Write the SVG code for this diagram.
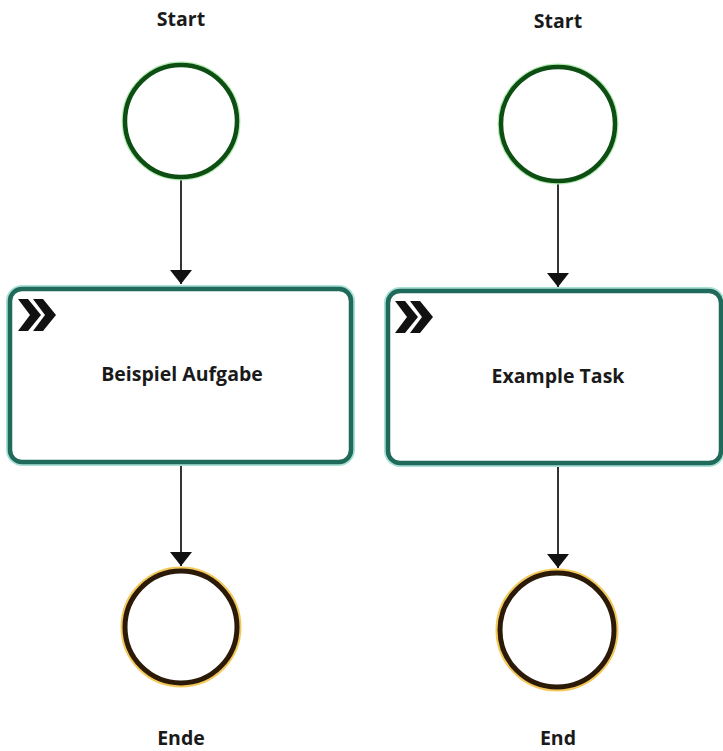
<svg xmlns="http://www.w3.org/2000/svg" width="723" height="751" viewBox="0 0 723 751">
<defs>
<style>
.lbl{font-family:"Open Sans","Liberation Sans",sans-serif;font-weight:700;font-size:19.5px;fill:#1a1a1a;text-anchor:middle}
.sHalo{fill:none;stroke:#b5eab5;stroke-width:7}
.sLine{fill:#fff;stroke:#0d4f12;stroke-width:4.5}
.eHalo{fill:none;stroke:#f3c85a;stroke-width:9}
.eLine{fill:#fff;stroke:#2b1a08;stroke-width:5}
.tHalo{fill:none;stroke:#a9e0d4;stroke-width:8}
.tLine{fill:#fff;stroke:#1f6a5a;stroke-width:4.5}
.flow{stroke:#333;stroke-width:2;fill:none;marker-end:url(#arr)}
.chev{fill:#111}
</style>
<marker id="arr" markerUnits="userSpaceOnUse" markerWidth="22" markerHeight="22" viewBox="0 0 14 22" refX="14" refY="11" orient="auto">
<path d="M0,0 L14,11 L0,22 Z" fill="#111"/>
</marker>
</defs>
<g id="connectors">
<line class="flow" x1="181" y1="178" x2="181" y2="284"/>
<line class="flow" x1="181" y1="463" x2="181" y2="566"/>
<line class="flow" x1="558" y1="183" x2="558" y2="287"/>
<line class="flow" x1="558" y1="463" x2="558" y2="568"/>
</g>
<g id="start1">
<circle class="sHalo" cx="181" cy="121" r="56"/>
<circle class="sLine" cx="181" cy="121" r="56"/>
<text class="lbl" x="181" y="26">Start</text>
</g>
<g id="task1">
<rect class="tHalo" x="10" y="289" width="341" height="173" rx="12"/>
<rect class="tLine" x="10" y="289" width="341" height="173" rx="12"/>
<path class="chev" d="M18,299 L28,299 L41,315 L28,331 L18,331 L30,315 Z"/>
<path class="chev" d="M33,299 L43,299 L56,315 L43,331 L33,331 L45,315 Z"/>
<text class="lbl" x="182" y="381">Beispiel Aufgabe</text>
</g>
<g id="end1">
<circle class="eHalo" cx="181" cy="627" r="56"/>
<circle class="eLine" cx="181" cy="627" r="56"/>
<text class="lbl" x="181" y="745">Ende</text>
</g>
<g id="start2">
<circle class="sHalo" cx="558" cy="124" r="57"/>
<circle class="sLine" cx="558" cy="124" r="57"/>
<text class="lbl" x="558" y="28">Start</text>
</g>
<g id="task2">
<rect class="tHalo" x="388" y="291" width="333" height="172" rx="12"/>
<rect class="tLine" x="388" y="291" width="333" height="172" rx="12"/>
<path class="chev" d="M395,301 L405,301 L418,317 L405,333 L395,333 L407,317 Z"/>
<path class="chev" d="M410,301 L420,301 L433,317 L420,333 L410,333 L422,317 Z"/>
<text class="lbl" x="558" y="383">Example Task</text>
</g>
<g id="end2">
<circle class="eHalo" cx="557" cy="630" r="57"/>
<circle class="eLine" cx="557" cy="630" r="57"/>
<text class="lbl" x="558" y="745">End</text>
</g>
</svg>
